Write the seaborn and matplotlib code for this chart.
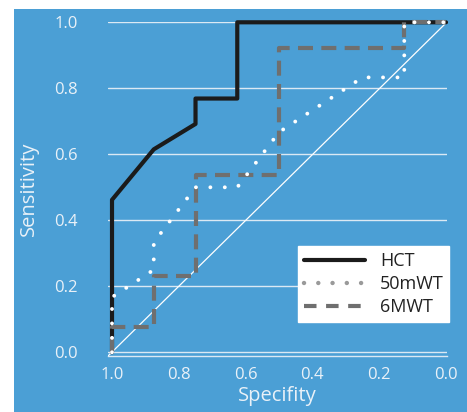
import numpy as np
import pandas as pd
import matplotlib
matplotlib.use("Agg")
import matplotlib.pyplot as plt
import seaborn as sns
from matplotlib.lines import Line2D
from matplotlib.patches import Rectangle

# ---------------- data ----------------
series_names = ["HCT", "50mWT", "6MWT"]
hct_spec = [1.0, 1.0, 0.875, 0.75, 0.75, 0.625, 0.625, 0.0]
hct_sens = [0.0, 0.462, 0.615, 0.692, 0.769, 0.769, 1.0, 1.0]
walk50_spec = [1.0, 1.0, 0.875, 0.875, 0.75, 0.625, 0.5, 0.25, 0.125, 0.125, 0.0]
walk50_sens = [0.0, 0.167, 0.25, 0.333, 0.5, 0.5, 0.667, 0.833, 0.833, 1.0, 1.0]
mwt6_spec = [1.0, 1.0, 0.875, 0.875, 0.75, 0.75, 0.5, 0.5, 0.125, 0.125, 0.0]
mwt6_sens = [0.0, 0.077, 0.077, 0.231, 0.231, 0.538, 0.538, 0.923, 0.923, 1.0, 1.0]
tick_values = [0.0, 0.2, 0.4, 0.6, 0.8, 1.0]
tick_labels = ["0.0", "0.2", "0.4", "0.6", "0.8", "1.0"]
x_title = "Specifity"
y_title = "Sensitivity"

# ---------------- style ----------------
sns.set_style("white")
plt.rcParams["font.family"] = ["Open Sans", "DejaVu Sans"]

BLUE = "#4b9fd5"
TXT = "#e9f1f8"
GRID = "#dbe9f4"

W, H = 467, 412
fig = plt.figure(figsize=(W / 100, H / 100), dpi=100)
fig.patch.set_facecolor("white")
fig.patches.append(Rectangle((14 / W, 0), 1 - 14 / W, (H - 9) / H,
                             transform=fig.transFigure, facecolor=BLUE,
                             edgecolor="none", zorder=-10))

ax = fig.add_axes([108 / W, 1 - 356 / H, 338.7 / W, 333.7 / H])
ax.set_facecolor(BLUE)

df_hct = pd.DataFrame({"spec": hct_spec, "sens": hct_sens})
df_50 = pd.DataFrame({"spec": walk50_spec, "sens": walk50_sens})
df_6 = pd.DataFrame({"spec": mwt6_spec, "sens": mwt6_sens})

# diagonal reference
ax.plot([0, 1], [0, 1], transform=ax.transAxes, color="white", lw=0.9, zorder=1.5)

sns.lineplot(data=df_hct, x="spec", y="sens", sort=False, estimator=None, ax=ax,
             color="#1b1b1b", lw=3.0, zorder=3, clip_on=False)
sns.lineplot(data=df_6, x="spec", y="sens", sort=False, estimator=None, ax=ax,
             color="#6f6f6f", lw=3.0, zorder=4, clip_on=False,
             linestyle=(0, (3.6, 2.0)))
sns.lineplot(data=df_50, x="spec", y="sens", sort=False, estimator=None, ax=ax,
             color="white", lw=2.8, zorder=5, clip_on=False,
             linestyle=(0, (0.01, 3.7)), dash_capstyle="round")

ax.set_xlim(1.012, -0.002)
ax.set_ylim(-0.0112, 1.0)
ax.set_xticks(tick_values)
ax.set_xticklabels(tick_labels)
ax.set_yticks(tick_values)
ax.set_yticklabels(tick_labels)
ax.yaxis.grid(True, color=GRID, lw=1.0)
ax.xaxis.grid(False)
ax.set_axisbelow(True)
for s in ["top", "right", "left"]:
    ax.spines[s].set_visible(False)
ax.spines["bottom"].set_color(GRID)
ax.spines["bottom"].set_linewidth(1.0)

ax.tick_params(axis="y", length=0, pad=22, labelsize=12, labelcolor=TXT)
ax.tick_params(axis="x", length=0, pad=8, labelsize=12, labelcolor=TXT)
ax.set_xlabel(x_title, fontsize=14.5, color=TXT, labelpad=2)
ax.set_ylabel(y_title, fontsize=14.5, color=TXT, labelpad=11)

handles = [
    Line2D([], [], color="#1b1b1b", lw=3.0),
    Line2D([], [], color="#9a9a9a", lw=3.2, linestyle=(0, (0.01, 3.2)), dash_capstyle="round"),
    Line2D([], [], color="#6f6f6f", lw=3.0, linestyle=(0, (3.0, 2.3))),
]
leg = ax.legend(handles, series_names, loc="lower right",
                bbox_to_anchor=(1.008, 0.102), borderaxespad=0,
                fontsize=13, handlelength=3.4, handletextpad=0.8,
                labelspacing=0.28, borderpad=0.32, fancybox=False,
                framealpha=1, facecolor="white", edgecolor="white")
for t in leg.get_texts():
    t.set_color("#222222")
leg.set_zorder(10)

fig.savefig("out.png", dpi=100, facecolor=fig.get_facecolor())
